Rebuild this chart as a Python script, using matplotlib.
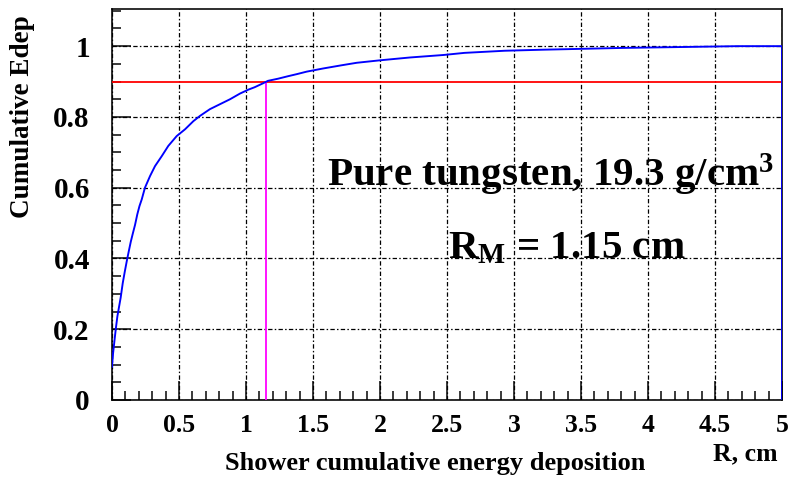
import matplotlib
matplotlib.use("Agg")
import matplotlib.pyplot as plt
from matplotlib.ticker import MultipleLocator

# ---- data ----
radius_cm = [0.000, 0.008, 0.015, 0.028, 0.040, 0.052, 0.065, 0.080, 0.095, 0.110,
             0.125, 0.140, 0.155, 0.172, 0.189, 0.205, 0.222, 0.246, 0.284, 0.321,
             0.371, 0.420, 0.483, 0.545, 0.607, 0.657, 0.731, 0.806, 0.881, 0.955,
             1.017, 1.065, 1.127, 1.164, 1.239, 1.313, 1.380, 1.453, 1.577, 1.714,
             1.826, 2.000, 2.224, 2.473, 2.630, 2.930, 3.220, 3.810, 4.670, 5.000]
cum_edep = [0.094, 0.132, 0.156, 0.200, 0.236, 0.262, 0.290, 0.330, 0.362, 0.392,
            0.420, 0.447, 0.470, 0.495, 0.525, 0.548, 0.567, 0.600, 0.633, 0.661,
            0.689, 0.718, 0.746, 0.765, 0.788, 0.803, 0.822, 0.836, 0.850, 0.866,
            0.877, 0.884, 0.895, 0.902, 0.908, 0.915, 0.921, 0.928, 0.937, 0.946,
            0.953, 0.960, 0.968, 0.975, 0.981, 0.987, 0.990, 0.995, 1.000, 1.000]
containment_level = 0.9
moliere_radius = 1.15
annotation_lines = [r"Pure tungsten, 19.3 g/cm$^{\mathrm{3}}$",
                    r"R$_{\mathrm{M}}$ = 1.15 cm"]
x_title = "R, cm"
y_title = "Cumulative Edep"
caption = "Shower cumulative energy deposition"

# ---- style ----
plt.rcParams['font.family'] = ['Liberation Serif', 'DejaVu Serif']
plt.rcParams['font.weight'] = 'bold'
plt.rcParams['mathtext.fontset'] = 'custom'
plt.rcParams['mathtext.rm'] = 'Liberation Serif:bold'
plt.rcParams['mathtext.it'] = 'Liberation Serif:bold'
plt.rcParams['mathtext.bf'] = 'Liberation Serif:bold'

fig = plt.figure(figsize=(7.9, 4.82), dpi=100)
ax = fig.add_axes([112/790, 1-400/482, 670/790, 391/482])

px = 0.72  # one pixel in points

# curve (histogram-like, closing down to zero at the last edge)
xs = list(radius_cm) + [radius_cm[-1]]
ys = list(cum_edep) + [0.0]
ax.plot(xs, ys, color='#0000ff', lw=1.9*px, zorder=4)

ax.axhline(containment_level, color='#ff0000', lw=1.8*px, zorder=3)
ax.plot([moliere_radius, moliere_radius], [0, containment_level],
        color='#ff00ff', lw=1.8*px, zorder=3)

ax.set_xlim(0, 5)
ax.set_ylim(0, 1.105)
ax.xaxis.set_major_locator(MultipleLocator(0.5))
ax.xaxis.set_minor_locator(MultipleLocator(0.1))
ax.yaxis.set_major_locator(MultipleLocator(0.2))
ax.yaxis.set_minor_locator(MultipleLocator(0.05))
ax.xaxis.set_major_formatter(plt.FuncFormatter(lambda v, p: f"{v:g}"))
ax.yaxis.set_major_formatter(plt.FuncFormatter(lambda v, p: f"{v:g}"))

ax.grid(True, which='major', color='black', lw=1.25*px, linestyle=(0, (3.5, 1.8, 1.2, 1.8)))
ax.tick_params(which='both', direction='in', top=False, right=False,
               width=1.5*px, colors='black')
ax.tick_params(which='major', length=19*px)
ax.tick_params(which='minor', length=9*px)
ax.tick_params(axis='x', pad=10, labelsize=18.5)
ax.tick_params(axis='y', pad=16, labelsize=21)
for s in ax.spines.values():
    s.set_linewidth(1.6*px)

ax.set_ylabel(y_title, fontsize=19.5, fontweight='bold', loc='top')
ax.yaxis.set_label_coords(-0.115, 0.985)
ax.set_xlabel(x_title, fontsize=18.5, fontweight='bold', loc='right')
ax.xaxis.set_label_coords(0.994, -0.108)
ax.text(0.482, -0.133, caption, transform=ax.transAxes, ha='center', va='top',
        fontsize=19, fontweight='bold')

ax.text(1.604, 0.604, annotation_lines[0], ha='left', va='baseline',
        fontsize=29.5, fontweight='bold')
ax.text(2.507, 0.401, annotation_lines[1], ha='left', va='baseline',
        fontsize=29.5, fontweight='bold')

fig.savefig("out.png", dpi=100)
